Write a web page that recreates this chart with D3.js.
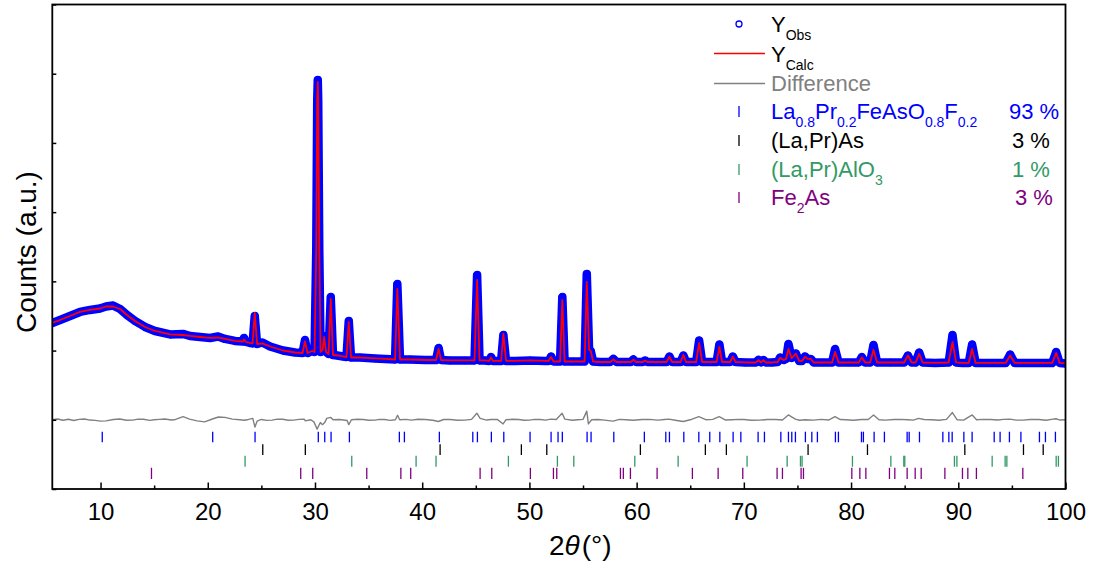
<!DOCTYPE html>
<html>
<head>
<meta charset="utf-8">
<script src="https://d3js.org/d3.v7.min.js"></script>
<style>
  html, body { margin: 0; padding: 0; background: #fff; }
  svg { display: block; font-family: "Liberation Sans", Arial, sans-serif; }
</style>
</head>
<body>
<svg id="chart" width="1096" height="565"></svg>
<script>
// ---------------- DATA ----------------
const twoTheta = [5.50,6.22,7.15,8.08,9.02,9.95,10.51,11.16,11.82,12.47,13.21,14.15,15.08,16.48,17.69,18.35,19.28,20.21,20.96,21.61,22.54,23.29,23.38,23.57,23.94,24.18,24.38,24.60,25.09,25.81,27.02,28.14,28.84,29.07,29.31,29.73,29.96,30.12,30.21,30.26,30.30,30.40,30.52,30.71,30.85,31.03,31.27,31.47,31.68,32.06,32.62,32.94,33.15,33.36,34.20,35.60,36.53,37.47,37.68,37.93,38.87,40.27,41.29,41.53,41.76,42.60,44.00,44.88,45.12,45.35,45.86,46.24,46.42,46.61,47.08,47.36,47.57,47.82,48.66,50.06,51.46,51.79,52.02,52.25,52.58,52.86,53.07,53.28,54.07,54.72,55.15,55.35,55.57,55.72,55.94,56.59,57.53,57.83,58.13,58.93,59.44,59.70,59.95,60.56,60.79,61.02,62.00,62.79,63.06,63.31,64.10,64.36,64.61,65.17,65.55,65.83,66.11,66.85,67.46,67.72,67.97,68.72,68.97,69.23,70.12,71.10,71.36,71.61,71.82,72.08,72.64,73.15,73.38,73.71,73.94,74.16,74.46,74.85,75.16,75.43,75.71,75.95,76.25,76.51,77.30,78.23,78.51,78.84,79.73,80.71,81.00,81.31,81.78,82.09,82.43,83.65,84.95,85.30,85.65,86.02,86.35,86.68,87.84,89.10,89.46,89.80,90.36,90.97,91.29,91.62,92.97,94.42,94.84,95.26,97.17,98.76,99.13,99.46,100.0];
const yObs = [1399,1442,1500,1558,1587,1608,1637,1652,1601,1514,1428,1341,1283,1233,1240,1211,1196,1182,1204,1168,1139,1131,1182,1124,1110,1103,1500,1095,1117,1059,1001,972,965,1153,965,994,980,2454,4621,4910,4621,2454,980,1009,1211,980,951,1774,936,929,915,907,1428,900,900,886,879,871,1962,871,871,864,864,1037,864,857,857,857,2092,857,857,850,907,850,850,850,1225,850,850,857,850,850,915,842,842,842,1774,842,842,842,842,2107,980,994,842,835,835,879,835,835,835,871,835,835,857,835,835,835,915,835,835,929,835,835,835,1146,835,835,835,1088,835,835,915,835,828,828,864,828,864,828,828,835,900,864,879,1095,893,958,850,850,915,879,879,828,828,828,1023,828,828,828,907,828,828,1081,828,828,828,929,828,828,972,828,821,828,1225,828,821,821,1088,821,821,821,944,821,821,821,980,821,814];
const yCalc = [1399,1442,1500,1558,1587,1608,1637,1637,1601,1514,1428,1341,1283,1233,1225,1211,1196,1182,1189,1168,1139,1131,1160,1124,1110,1103,1543,1095,1103,1059,1001,972,965,1131,965,994,980,2454,4621,4881,4621,2454,980,1009,1196,980,951,1746,936,929,915,907,1413,900,900,886,879,871,1890,871,871,864,864,1023,864,857,857,857,2020,857,857,850,900,850,850,850,1240,850,850,857,850,850,908,842,842,842,1731,842,842,842,842,1991,1009,994,842,835,835,871,835,835,835,868,835,835,855,835,835,835,910,835,835,936,835,835,835,1110,835,835,835,1052,835,835,912,835,828,828,860,828,860,828,828,835,895,864,879,1023,890,955,850,850,912,879,879,828,828,828,980,828,828,828,902,828,828,1009,828,828,828,929,828,828,951,828,821,828,1124,828,821,821,1023,821,821,821,929,821,821,821,965,821,814];

const diffTheta = [5.5,6.0,6.5,7.0,7.5,8.0,8.5,9.0,9.5,10.0,10.5,11.2,11.8,12.4,13.0,13.5,14.0,14.6,15.0,15.5,16.0,16.6,17.0,17.7,18.3,19.0,19.7,20.5,21.0,21.6,22.3,23.0,23.4,23.8,24.2,24.4,24.6,25.0,25.5,26.0,26.5,27.0,27.5,28.0,28.5,29.0,29.1,29.6,29.9,30.2,30.3,30.5,30.7,30.9,31.1,31.45,31.7,32.3,33.0,33.15,33.4,34.0,34.5,35.0,35.6,36.0,36.5,37.0,37.5,37.7,37.9,38.5,39.0,39.6,40.3,41.0,41.5,42.0,42.6,43.3,44.0,44.6,45.1,45.4,46.0,46.4,47.0,47.55,47.8,48.4,49.0,49.5,50.0,50.5,51.0,51.5,52.0,52.5,53.05,53.3,54.0,54.5,55.0,55.35,55.5,55.8,56.4,57.0,57.8,58.4,59.0,59.7,60.5,61.2,62.0,62.6,63.0,63.6,64.35,65.0,65.8,66.5,67.1,67.7,68.3,68.9,69.5,70.0,70.7,71.5,72.2,73.0,73.6,74.15,74.8,75.2,75.7,76.5,77.2,77.9,78.5,79.0,79.5,80.2,81.0,81.6,82.1,82.6,83.2,84.0,84.6,85.3,85.8,86.3,86.8,87.5,88.2,88.9,89.45,89.9,90.5,91.3,91.7,92.3,93.0,93.7,94.2,94.8,95.4,96.0,96.7,97.5,98.2,98.7,99.1,99.5,100.0];
const yDiff = [0,12,-6,8,-10,6,12,-4,-8,-20,-15,5,12,-6,-5,10,8,-8,0,6,12,-4,5,45,10,-15,-30,15,40,35,10,0,-6,5,20,-105,-20,5,-8,-5,10,8,-6,-5,6,10,-15,0,-30,-135,-100,-40,-70,-40,20,35,0,5,-10,-70,0,8,5,-6,-5,6,5,-8,0,65,0,6,-5,8,5,-6,-25,4,5,-6,-5,6,95,20,-4,5,6,-60,0,8,5,-6,-5,6,5,-5,10,4,95,10,-6,0,6,125,-60,0,5,-5,-20,6,0,-6,5,6,-5,4,10,-6,-25,0,45,0,6,45,-4,0,6,5,-6,-5,4,5,-4,70,10,-6,0,-5,6,-4,45,4,0,-6,5,4,70,0,-5,5,6,0,-5,20,4,0,-6,6,105,0,-5,70,0,6,5,-4,6,10,-5,-5,4,5,-6,6,15,-4,0];

const phaseLa1111 = [10.16,20.46,24.41,30.31,30.91,31.50,33.21,37.87,38.34,41.60,44.72,45.15,46.45,47.61,50.06,52.02,52.67,53.07,55.38,55.75,57.87,60.72,62.72,63.06,64.40,65.80,66.82,67.76,69.00,69.72,71.33,71.92,73.45,74.16,74.47,74.81,75.74,76.34,76.86,78.54,78.82,80.97,81.15,82.15,83.11,85.23,85.42,86.38,88.56,89.12,89.43,90.52,91.29,93.35,93.90,94.77,95.84,97.57,98.13,99.06];
const phaseLaAs = [25.13,29.10,41.67,49.25,51.62,60.35,66.41,68.37,75.99,81.53,90.61,96.08,97.92];
const phaseLaAlO3 = [23.48,33.43,39.43,41.29,48.04,52.61,54.14,59.83,63.87,70.30,74.04,75.28,75.43,80.13,83.71,84.92,85.01,89.64,89.87,93.16,94.37,94.53,99.13,99.34];
const phaseFe2As = [14.75,28.67,29.79,34.83,38.01,38.93,45.40,46.49,50.09,52.24,52.55,58.49,58.76,59.42,61.91,65.20,67.60,69.90,73.10,73.60,75.34,75.56,80.07,80.82,81.38,83.58,84.08,85.23,85.98,86.54,88.75,90.39,90.89,91.69,96.02];

const xTickValues = [10,20,30,40,50,60,70,80,90,100];
const xMinorValues = [15,25,35,45,55,65,75,85,95];
const yTickValues = [-1000,0,1000,2000,3000,4000,5000,6000];

const phaseNames = ["La1111","LaAs","LaAlO3","Fe2As"];
const phaseFractions = ["93 %","3 %","1 %","3 %"];

// ---------------- LAYOUT ----------------
const svg = d3.select("#chart");
const L = 52.3, R = 1065.5, T = 4.5, B = 489;
const x = d3.scaleLinear().domain([5.5, 100]).range([L, R]);
const y = d3.scaleLinear().domain([-1000, 6000]).range([B, T]);

const BLUE = "#0000ff", RED = "#ff0000", GREY = "#808080", GREEN = "#339966", PURPLE = "#800080";

svg.append("defs").append("clipPath").attr("id","clip")
  .append("rect").attr("x",L).attr("y",T).attr("width",R-L).attr("height",B-T);

const plot = svg.append("g").attr("clip-path","url(#clip)");

const obsPts = twoTheta.map((t,i)=>[t, yObs[i]]);
const calcPts = twoTheta.map((t,i)=>[t, yCalc[i]]);
const diffPts = diffTheta.map((t,i)=>[t, yDiff[i]]);
const line = d3.line().x(d=>x(d[0])).y(d=>y(d[1]));

// Difference
plot.append("path").attr("d", line(diffPts)).attr("fill","none")
  .attr("stroke", GREY).attr("stroke-width", 1.4).attr("stroke-linejoin","round");

// Observed: dense circle band
plot.append("path").attr("d", line(obsPts)).attr("fill","none")
  .attr("stroke", BLUE).attr("stroke-width", 8.5).attr("stroke-linejoin","round").attr("stroke-linecap","round");
plot.append("g").selectAll("circle").data(obsPts).join("circle")
  .attr("cx", d=>x(d[0])).attr("cy", d=>y(d[1])).attr("r", 3.2)
  .attr("fill","none").attr("stroke", BLUE).attr("stroke-width", 1.2);

// Calculated
plot.append("path").attr("d", line(calcPts)).attr("fill","none")
  .attr("stroke", RED).attr("stroke-width", 1.8).attr("stroke-linejoin","round");

// Bragg ticks
const phaseRows = [
  {data: phaseLa1111, color: BLUE, y0: 431.7, y1: 442.3},
  {data: phaseLaAs, color: "#000000", y0: 444.3, y1: 455},
  {data: phaseLaAlO3, color: GREEN, y0: 455.8, y1: 466.7},
  {data: phaseFe2As, color: PURPLE, y0: 467.8, y1: 479}
];
phaseRows.forEach(row => {
  plot.append("g").selectAll("line").data(row.data).join("line")
    .attr("x1", d=>x(d)).attr("x2", d=>x(d))
    .attr("y1", row.y0).attr("y2", row.y1)
    .attr("stroke", row.color).attr("stroke-width", 1.3);
});

// Axes
const xAxis = d3.axisBottom(x).tickValues(xTickValues).tickSize(-6.5).tickPadding(13).tickFormat(d3.format("d"));
const gx = svg.append("g").attr("transform", `translate(0,${B})`).call(xAxis);
gx.select(".domain").remove();
gx.selectAll(".tick line").attr("stroke","#000").attr("stroke-width",1.5);
gx.selectAll(".tick text").attr("font-size", 24).attr("fill","#000")
  .attr("font-family", '"Liberation Sans", Arial, sans-serif').attr("dy", "0.75em");

const xMinor = d3.axisBottom(x).tickValues(xMinorValues).tickSize(-3.5).tickFormat("");
const gxm = svg.append("g").attr("transform", `translate(0,${B})`).call(xMinor);
gxm.select(".domain").remove();
gxm.selectAll(".tick line").attr("stroke","#000").attr("stroke-width",1.5);

const yAxis = d3.axisLeft(y).tickValues(yTickValues).tickSize(-4).tickFormat("");
const gy = svg.append("g").attr("transform", `translate(${L},0)`).call(yAxis);
gy.select(".domain").remove();
gy.selectAll(".tick line").attr("stroke","#000").attr("stroke-width",1.5);

// Frame
svg.append("rect").attr("x",L).attr("y",T).attr("width",R-L).attr("height",B-T)
  .attr("fill","none").attr("stroke","#000").attr("stroke-width",1.8);

// Axis titles
const xt = svg.append("text").attr("x", 549).attr("y", 555).attr("font-size", 28).attr("fill","#000");
xt.append("tspan").attr("font-style","normal").text("2");
xt.append("tspan").attr("font-style","italic").text("θ");
xt.append("tspan").attr("dx", 2).text("(°)");

svg.append("text").attr("transform","translate(36,252) rotate(-90)")
  .attr("text-anchor","middle").attr("font-size", 28).attr("fill","#000").text("Counts (a.u.)");

// Legend
const lg = svg.append("g").attr("font-size", 22);
const TX = 771;
lg.append("circle").attr("cx",739).attr("cy",24).attr("r",3).attr("fill","none").attr("stroke",BLUE).attr("stroke-width",1.3);
let t = lg.append("text").attr("x",TX).attr("y",32).attr("fill","#000");
t.append("tspan").text("Y"); t.append("tspan").attr("font-size",14).attr("dy",8).text("Obs");

lg.append("line").attr("x1",714).attr("x2",765).attr("y1",53.5).attr("y2",53.5).attr("stroke",RED).attr("stroke-width",1.5);
t = lg.append("text").attr("x",TX).attr("y",62).attr("fill","#000");
t.append("tspan").text("Y"); t.append("tspan").attr("font-size",14).attr("dy",8).text("Calc");

lg.append("line").attr("x1",714).attr("x2",765).attr("y1",83.5).attr("y2",83.5).attr("stroke",GREY).attr("stroke-width",1.5);
lg.append("text").attr("x",TX).attr("y",91).attr("fill",GREY).text("Difference");

function formula(parent, parts, xx, yy, color){
  const tx = parent.append("text").attr("x",xx).attr("y",yy).attr("fill",color);
  let sub = false;
  parts.forEach(p => {
    const s = tx.append("tspan").text(p.t);
    if (p.sub && !sub) { s.attr("font-size",14).attr("dy",8); sub = true; }
    else if (!p.sub && sub) { s.attr("dy",-8); sub = false; }
  });
  return tx;
}
const legendRows = [
  {color: BLUE, base: 119, parts: [{t:"La"},{t:"0.8",sub:1},{t:"Pr"},{t:"0.2",sub:1},{t:"FeAsO"},{t:"0.8",sub:1},{t:"F"},{t:"0.2",sub:1}], px: 1009},
  {color: "#000", base: 148, parts: [{t:"(La,Pr)As"}], px: 1012},
  {color: GREEN, base: 177, parts: [{t:"(La,Pr)AlO"},{t:"3",sub:1}], px: 1012},
  {color: PURPLE, base: 205, parts: [{t:"Fe"},{t:"2",sub:1},{t:"As"}], px: 1015}
];
legendRows.forEach((r,i) => {
  lg.append("line").attr("x1",739).attr("x2",739).attr("y1",r.base-13).attr("y2",r.base-2)
    .attr("stroke",r.color).attr("stroke-width",1.3);
  formula(lg, r.parts, TX, r.base, r.color);
  lg.append("text").attr("x",r.px).attr("y",r.base).attr("fill",r.color).text(phaseFractions[i]);
});
</script>
</body>
</html>
